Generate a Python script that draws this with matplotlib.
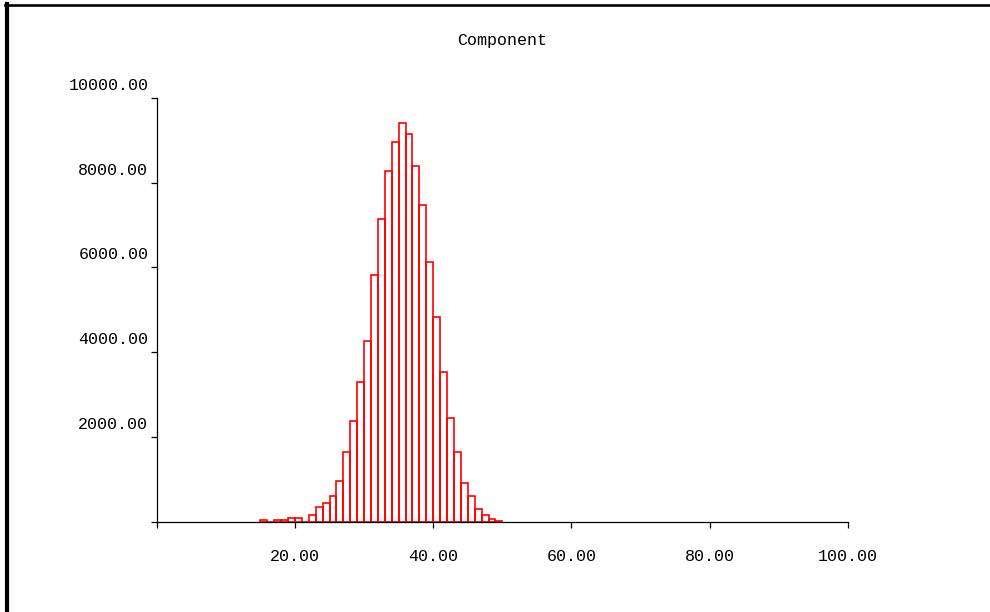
"""
Histogram of the "Component" values, drawn as red outline bars on a
plain white panel with a thin black frame at top and left.
"""
import matplotlib
matplotlib.use("Agg")
import matplotlib.pyplot as plt
from matplotlib.lines import Line2D
from matplotlib.transforms import ScaledTranslation

# ── data ─────────────────────────────────────────────────────────────────────
TITLE = "Component"

bin_starts = [15, 16, 17, 18, 19, 20, 21, 22, 23, 24, 25, 26, 27, 28, 29, 30,
              31, 32, 33, 34, 35, 36, 37, 38, 39, 40, 41, 42, 43, 44, 45, 46,
              47, 48, 49]
counts     = [40, 0, 40, 40, 95, 95, 0, 165, 354, 432, 597, 961, 1645, 2370,
              3297, 4265, 5815, 7144, 8270, 8954, 9403, 9157, 8402, 7465,
              6129, 4838, 3540, 2455, 1645, 920, 597, 307, 158, 71, 24]
bin_width  = 1.0

x_ticks       = [0, 20, 40, 60, 80, 100]
x_tick_labels = ["", "20.00", "40.00", "60.00", "80.00", "100.00"]
y_ticks       = [0, 2000, 4000, 6000, 8000, 10000]
y_tick_labels = ["", "2000.00", "4000.00", "6000.00", "8000.00", "10000.00"]

BAR_COLOR = "#ff0000"
FONT      = "Liberation Mono"

# ── figure ───────────────────────────────────────────────────────────────────
W, H = 990, 612
fig = plt.figure(figsize=(W / 100, H / 100), dpi=100, facecolor="white")
ax = fig.add_axes([156.7 / W, 90.3 / H, 691.3 / W, 423.7 / H])

ax.bar(bin_starts, counts, width=bin_width, align="edge", fill=False,
       edgecolor=BAR_COLOR, linewidth=1.2, zorder=1)

ax.set_xlim(0, 100)
ax.set_ylim(0, 10000)

for side in ("top", "right"):
    ax.spines[side].set_visible(False)
for side in ("left", "bottom"):
    ax.spines[side].set_color("black")
    ax.spines[side].set_linewidth(0.9)
    ax.spines[side].set_zorder(3)

ax.set_xticks(x_ticks)
ax.set_xticklabels(x_tick_labels, family=FONT, fontsize=12)
ax.set_yticks(y_ticks)
ax.set_yticklabels(y_tick_labels, family=FONT, fontsize=12)
ax.tick_params(axis="x", direction="out", length=4.5, width=0.9, pad=15)
ax.tick_params(axis="y", direction="out", length=4, width=0.9, pad=2)

# y labels sit a little above their ticks in the original
shift = ScaledTranslation(0, 14 / 100, fig.dpi_scale_trans)
for lab in ax.get_yticklabels():
    lab.set_transform(lab.get_transform() + shift)

ax.set_title(TITLE, family=FONT, fontsize=12, pad=38)

# frame lines along the top and left edge
fig.add_artist(Line2D([5 / W, 1], [1 - 5.3 / H, 1 - 5.3 / H],
                      transform=fig.transFigure, color="black", lw=1.9))
fig.add_artist(Line2D([6.8 / W, 6.8 / W], [0, 1 - 4 / H],
                      transform=fig.transFigure, color="black", lw=3.0))

fig.savefig("out.png", dpi=100, facecolor="white")
plt.close(fig)
